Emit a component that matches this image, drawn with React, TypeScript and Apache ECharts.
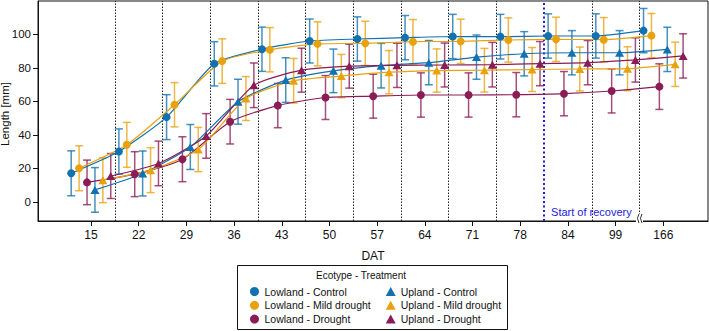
import React, { useEffect, useRef } from "react";
import * as echarts from "echarts";

// Days after transplanting (category ticks on the x axis)
const DAT = ["15", "22", "29", "36", "43", "50", "57", "64", "71", "78", "84", "99", "166"];

// Mean length [mm] per ecotype x treatment
const lowlandControl = [17.1, 30.1, 50.6, 82.4, 91.1, 96.0, 97.2, 98.0, 98.7, 98.6, 99.0, 99.0, 102.2];
const lowlandMild = [20.1, 34.1, 58.0, 84.0, 90.8, 94.3, 94.6, 95.6, 95.8, 96.6, 97.0, 96.8, 99.2];
const lowlandDrought = [11.7, 16.6, 25.5, 47.9, 57.5, 62.3, 63.1, 63.8, 63.8, 64.0, 64.6, 66.2, 68.8];
const uplandControl = [7.2, 17.0, 32.8, 59.8, 72.7, 78.2, 81.3, 83.1, 86.4, 88.4, 89.0, 89.0, 91.0];
const uplandMild = [13.0, 19.0, 31.3, 61.7, 72.3, 75.1, 77.4, 78.4, 78.6, 79.0, 79.3, 79.5, 82.1];
const uplandDrought = [15.5, 23.0, 39.4, 69.6, 78.6, 81.0, 81.5, 81.7, 81.9, 82.5, 83.1, 84.7, 87.1];

// Standard deviations [mm]
const lowlandControlSd = [13.4, 13.5, 13.4, 13.2, 13.2, 13.1, 13.2, 13.2, 13.2, 13.3, 13.2, 13.2, 13.2];
const lowlandMildSd = [13.4, 13.4, 13.2, 13.3, 13.2, 13.1, 13.2, 13.2, 13.2, 13.2, 13.2, 13.2, 13.2];
const lowlandDroughtSd = [13.3, 13.4, 13.4, 13.3, 13.2, 13.1, 13.1, 13.2, 13.2, 13.2, 13.2, 13.1, 13.6];
const uplandControlSd = [13.3, 13.4, 13.4, 13.4, 13.3, 13.0, 13.3, 13.2, 13.2, 13.2, 13.2, 13.2, 13.2];
const uplandMildSd = [13.4, 13.4, 13.2, 13.1, 13.3, 12.9, 12.9, 12.9, 13.0, 13.1, 13.1, 13.1, 13.2];
const uplandDroughtSd = [13.4, 13.3, 13.3, 13.3, 13.1, 13.1, 13.2, 13.1, 13.3, 13.2, 13.2, 13.2, 13.2];

// Period separators (between DAT positions) and the recovery marker
const separators = [0.5, 1.5, 2.5, 3.5, 4.5, 5.5, 6.5, 7.5, 8.5, 10.5, 11.5];
const recoveryAt = 9.5;
const breakAt = 11.5;

const BLUE = "#1271ae";
const ORANGE = "#e9a20f";
const WINE = "#8a1d55";

const groups = [
  { name: "Lowland - Control", values: lowlandControl, sd: lowlandControlSd, color: BLUE, symbol: "circle" },
  { name: "Lowland - Mild drought", values: lowlandMild, sd: lowlandMildSd, color: ORANGE, symbol: "circle" },
  { name: "Lowland - Drought", values: lowlandDrought, sd: lowlandDroughtSd, color: WINE, symbol: "circle" },
  { name: "Upland - Control", values: uplandControl, sd: uplandControlSd, color: BLUE, symbol: "triangle" },
  { name: "Upland - Mild drought", values: uplandMild, sd: uplandMildSd, color: ORANGE, symbol: "triangle" },
  { name: "Upland - Drought", values: uplandDrought, sd: uplandDroughtSd, color: WINE, symbol: "triangle" },
];

// Horizontal dodge of the six groups inside one DAT slot
const DODGE = [-0.415, -0.249, -0.083, 0.083, 0.249, 0.415];

const X_MIN = -1.111;
const X_MAX = 12.937;
const Y_MIN = -11.33;
const Y_MAX = 119.86;
const FONT = "'Liberation Sans', Arial, sans-serif";

export default function App() {
  const ref = useRef<HTMLDivElement>(null);

  useEffect(() => {
    if (!ref.current) return;
    const chart = echarts.init(ref.current, null, { renderer: "svg" });

    const series: any[] = [];
    groups.forEach((g, gi) => {
      const off = DODGE[gi];
      series.push({
        name: g.name + " sd",
        type: "custom",
        z: 2,
        silent: true,
        data: g.values.map((v, i) => [i + off, v - g.sd[i], v + g.sd[i]]),
        encode: { x: 0, y: [1, 2] },
        renderItem: (_p: any, api: any) => {
          const x = api.value(0);
          const lo = api.coord([x, api.value(1)]);
          const hi = api.coord([x, api.value(2)]);
          const cap = 4;
          const style = { stroke: g.color, lineWidth: 1.5, opacity: 0.78 };
          return {
            type: "group",
            children: [
              { type: "line", shape: { x1: lo[0], y1: lo[1], x2: hi[0], y2: hi[1] }, style },
              { type: "line", shape: { x1: lo[0] - cap, y1: lo[1], x2: lo[0] + cap, y2: lo[1] }, style },
              { type: "line", shape: { x1: hi[0] - cap, y1: hi[1], x2: hi[0] + cap, y2: hi[1] }, style },
            ],
          };
        },
      });
      series.push({
        name: g.name,
        type: "line",
        z: 3,
        smooth: 0.2,
        data: g.values.map((v, i) => [i + off, v]),
        symbol: g.symbol,
        symbolSize: g.symbol === "circle" ? 8 : [9, 8],
        itemStyle: { color: g.color },
        lineStyle: { color: g.color, width: 1.2 },
        markLine:
          gi === 0
            ? {
                silent: true,
                symbol: ["none", "none"],
                label: { show: false },
                z: 1,
                data: [
                  ...separators.map((s) => ({
                    xAxis: s,
                    lineStyle: { color: "#222", width: 1, type: [1.5, 1.5] },
                  })),
                  { xAxis: recoveryAt, lineStyle: { color: "#1c1ce6", width: 2, type: [2, 2.5] } },
                ],
              }
            : undefined,
      });
    });

    const legendItem = (g: any) => ({ name: g.name, icon: g.symbol });

    chart.setOption({
      animation: false,
      textStyle: { fontFamily: FONT },
      grid: {
        left: 38,
        right: 1,
        top: 1,
        bottom: 110,
        outerBoundsMode: "none",
        containLabel: false,
        show: true,
        borderColor: "#111",
        borderWidth: 1,
        backgroundColor: "transparent",
      },
      xAxis: {
        type: "value",
        min: X_MIN,
        max: X_MAX,
        name: "DAT",
        nameLocation: "middle",
        nameGap: 29,
        nameTextStyle: { color: "#111", fontSize: 12, fontFamily: FONT },
        axisLine: { show: true, onZero: false, lineStyle: { color: "#111", width: 1 } },
        axisTick: {
          show: true,
          length: 5,
          lineStyle: { color: "#111" },
          customValues: DAT.map((_, i) => i),
        },
        axisLabel: {
          color: "#111",
          fontSize: 12,
          margin: 8,
          fontFamily: FONT,
          customValues: DAT.map((_, i) => i),
          formatter: (v: number) => DAT[Math.round(v)] ?? "",
        },
        splitLine: { show: false },
      },
      yAxis: {
        type: "value",
        min: Y_MIN,
        max: Y_MAX,
        axisLine: { show: true, onZero: false, lineStyle: { color: "#111", width: 1 } },
        axisTick: {
          show: true,
          length: 5,
          lineStyle: { color: "#111" },
          customValues: [0, 20, 40, 60, 80, 100],
        },
        axisLabel: {
          color: "#111",
          fontSize: 11.5,
          margin: 7,
          fontFamily: FONT,
          customValues: [0, 20, 40, 60, 80, 100],
        },
        splitLine: { show: false },
      },
      legend: [
        {
          orient: "vertical",
          left: 245,
          top: 281,
          itemWidth: 10,
          itemHeight: 9,
          itemGap: 2.8,
          selectedMode: false,
          textStyle: { fontSize: 10.5, color: "#111", fontFamily: FONT, lineHeight: 10 },
          data: groups.slice(0, 3).map(legendItem),
        },
        {
          orient: "vertical",
          left: 380.7,
          top: 281,
          itemWidth: 10,
          itemHeight: 9,
          itemGap: 2.8,
          selectedMode: false,
          textStyle: { fontSize: 10.5, color: "#111", fontFamily: FONT, lineHeight: 10 },
          data: groups.slice(3).map(legendItem),
        },
      ],
      series,
    });

    // Decorations anchored on axis coordinates
    const [rx, yb] = chart.convertToPixel({ xAxisIndex: 0, yAxisIndex: 0 }, [recoveryAt, Y_MIN]);
    const [bx, yt] = chart.convertToPixel({ xAxisIndex: 0, yAxisIndex: 0 }, [breakAt, Y_MAX]);

    chart.setOption({
      graphic: [
        {
          type: "text",
          x: 5,
          y: (yb + yt) / 2 + 3,
          rotation: Math.PI / 2,
          z: 10,
          style: {
            text: "Length [mm]",
            fill: "#111",
            fontSize: 11.5,
            fontFamily: FONT,
            align: "center",
            verticalAlign: "middle",
          },
        },
        {
          type: "text",
          x: rx + 7,
          y: yb - 9,
          z: 10,
          style: {
            text: "Start of recovery",
            fill: "#1c1cd8",
            fontSize: 11,
            fontFamily: FONT,
            verticalAlign: "middle",
          },
        },
        {
          type: "rect",
          z: 10,
          shape: { x: bx - 3.5, y: yb - 7, width: 7, height: 8 },
          style: { fill: "#fff" },
        },
        {
          type: "bezierCurve",
          z: 11,
          shape: { x1: bx - 0.5, y1: yb - 7, cpx1: bx - 3.5, cpy1: yb - 3, x2: bx - 0.5, y2: yb + 2 },
          style: { stroke: "#333", lineWidth: 1, fill: null },
        },
        {
          type: "bezierCurve",
          z: 11,
          shape: { x1: bx + 2.5, y1: yb - 7, cpx1: bx - 0.5, cpy1: yb - 3, x2: bx + 2.5, y2: yb + 2 },
          style: { stroke: "#333", lineWidth: 1, fill: null },
        },
        {
          type: "rect",
          z: 5,
          shape: { x: 237.5, y: 265.5, width: 270, height: 64 },
          style: { fill: "none", stroke: "#111", lineWidth: 1 },
        },
        {
          type: "text",
          x: 361,
          y: 275,
          z: 6,
          style: {
            text: "Ecotype - Treatment",
            fill: "#111",
            fontSize: 10,
            fontFamily: FONT,
            align: "center",
            verticalAlign: "middle",
          },
        },
      ],
    });

    return () => chart.dispose();
  }, []);

  return (
    <div
      ref={ref}
      style={{ position: "fixed", left: 0, top: 0, width: 709, height: 331, background: "#fff" }}
    />
  );
}
